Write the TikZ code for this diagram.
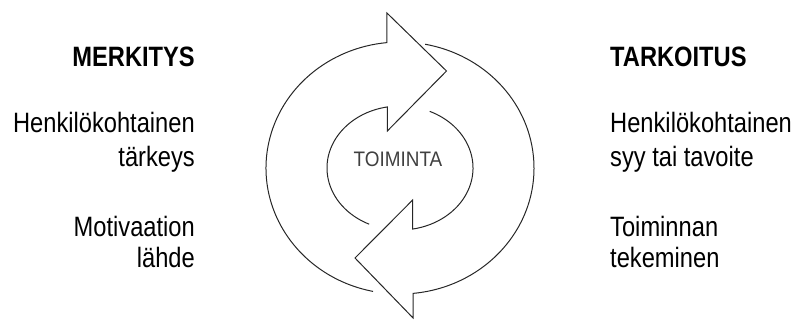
\documentclass[tikz,border=0pt]{standalone}
\usepackage{fontspec}
\setmainfont{Liberation Sans}
\newfontfamily\narrowsans[FakeStretch=0.846]{Liberation Sans}
\newfontfamily\midsans[FakeStretch=0.9]{Liberation Sans}
\usetikzlibrary{calc}
\begin{document}
\begin{tikzpicture}[x=1pt,y=1pt,
  cyc/.style={draw=black!85, line width=1pt, line join=miter},
  lbl/.style={inner sep=0pt, font=\narrowsans\fontsize{28}{32}\selectfont},
  hdr/.style={inner sep=0pt, font=\narrowsans\fontsize{28}{32}\selectfont\bfseries},
  ctr/.style={inner sep=0pt, text=black!75, font=\midsans\fontsize{21}{24}\selectfont}]
\useasboundingbox (0,0) rectangle (798,324);
\coordinate (c) at (400,156);
\path (c) ++(95.6:134pt and 126pt) coordinate (oTL);
\path (c) ++(258.4:134pt and 126pt) coordinate (oBL);
\path (c) ++(79.2:134pt and 126pt) coordinate (oTR);
\path (c) ++(-84.4:134pt and 126pt) coordinate (oBR);
\path (c) ++(100:73pt and 62pt) coordinate (iTL);
\path (c) ++(245:73pt and 62pt) coordinate (iBL);
\path (c) ++(66:73pt and 62pt) coordinate (iTR);
\path (c) ++(-80:73pt and 62pt) coordinate (iBR);
\coordinate (tipT) at (446.5,253);
\coordinate (tipB) at (355,66);
\coordinate (yA) at (0,311);
\coordinate (yB) at (0,193);
\coordinate (yC) at (0,124);
\coordinate (yD) at (0,6);
% top arrow with left arcs
\draw[cyc] (oBL) arc[start angle=258.4, end angle=95.6, x radius=134pt, y radius=126pt]
  -- (oTL |- yA) -- (tipT) -- (iTL |- yB) -- (iTL)
  arc[start angle=100, end angle=245, x radius=73pt, y radius=62pt];
% bottom arrow with right arcs
\draw[cyc] (iTR) arc[start angle=66, end angle=-80, x radius=73pt, y radius=62pt]
  -- (iBR |- yC) -- (tipB) -- (oBR |- yD) -- (oBR)
  arc[start angle=-84.4, end angle=79.2, x radius=134pt, y radius=126pt];
% centre
\node[ctr, anchor=base] (toim) at (398,157) {TOIMINTA};
% left column
\node[hdr, anchor=base east] (merk) at (195,257) {MERKITYS};
\node[lbl, anchor=base east] (l1) at (195,191) {Henkilökohtainen};
\node[lbl, anchor=base east] (l2) at (195,157) {tärkeys};
\node[lbl, anchor=base east] (l3) at (195,87) {Motivaation};
\node[lbl, anchor=base east] (l4) at (195,56) {lähde};
% right column
\node[hdr, anchor=base west] (tark) at (610,257) {TARKOITUS};
\node[lbl, anchor=base west] (r1) at (610,191) {Henkilökohtainen};
\node[lbl, anchor=base west] (r2) at (610,157) {syy tai tavoite};
\node[lbl, anchor=base west] (r3) at (610,87) {Toiminnan};
\node[lbl, anchor=base west] (r4) at (610,56) {tekeminen};
\end{tikzpicture}
\end{document}
